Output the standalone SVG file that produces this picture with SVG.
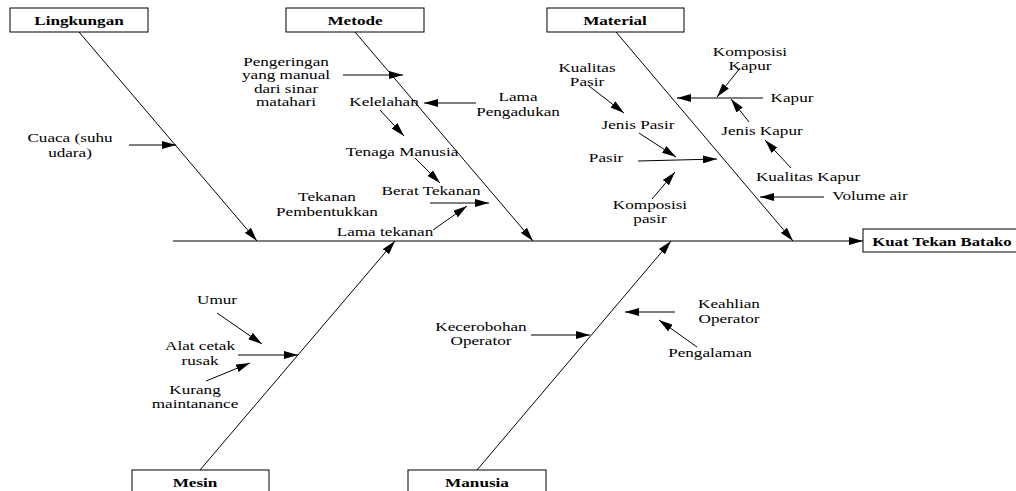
<svg xmlns="http://www.w3.org/2000/svg" width="1016" height="491" viewBox="0 0 1016 491" font-family="'Liberation Serif', 'Times New Roman', 'DejaVu Serif', serif">
<style>
text{font-family:'Liberation Serif','Times New Roman','DejaVu Serif',serif;font-size:13.5px;fill:#000;text-anchor:middle}
.b{font-weight:bold}
.box{fill:#fff;stroke:#000;stroke-width:1}
.ar{stroke:#000;stroke-width:1;fill:none;marker-end:url(#ah)}
</style>
<defs>
<marker id="ah" viewBox="0 0 14 8" refX="14" refY="4" markerWidth="14" markerHeight="8" orient="auto" markerUnits="userSpaceOnUse">
<path d="M0,0 L14,4 L0,8 z" fill="#000"/>
</marker>
</defs>
<rect width="1016" height="491" fill="#fff"/>

<g id="connectors">
<line class="ar" x1="173" y1="241" x2="863" y2="241"/>
<line class="ar" x1="79" y1="32" x2="257" y2="241"/>
<line class="ar" x1="355" y1="32" x2="533" y2="241"/>
<line class="ar" x1="616" y1="32" x2="793" y2="241"/>
<line class="ar" x1="200" y1="470" x2="395" y2="241"/>
<line class="ar" x1="477" y1="470" x2="671" y2="241"/>
<line class="ar" x1="129" y1="145" x2="176" y2="145"/>
<line class="ar" x1="343" y1="75" x2="403" y2="75"/>
<line class="ar" x1="476" y1="103" x2="424" y2="103"/>
<line class="ar" x1="380" y1="110" x2="404" y2="136"/>
<line class="ar" x1="415" y1="158" x2="440" y2="183"/>
<line class="ar" x1="430" y1="203" x2="489" y2="203"/>
<line class="ar" x1="433" y1="230" x2="467" y2="206"/>
<line class="ar" x1="740" y1="68" x2="717" y2="97"/>
<line class="ar" x1="763" y1="98" x2="677" y2="98"/>
<line class="ar" x1="749" y1="122" x2="731" y2="99"/>
<line class="ar" x1="791" y1="168" x2="765" y2="140"/>
<line class="ar" x1="824" y1="197" x2="760" y2="197"/>
<line class="ar" x1="589" y1="86" x2="624" y2="113"/>
<line class="ar" x1="639" y1="133" x2="676" y2="157"/>
<line class="ar" x1="638" y1="161" x2="717" y2="159"/>
<line class="ar" x1="652" y1="199" x2="675" y2="172"/>
<line class="ar" x1="217" y1="313" x2="262" y2="344"/>
<line class="ar" x1="238" y1="355" x2="298" y2="355"/>
<line class="ar" x1="206" y1="381" x2="250" y2="363"/>
<line class="ar" x1="531" y1="335" x2="590" y2="335"/>
<line class="ar" x1="675" y1="312" x2="625" y2="312"/>
<line class="ar" x1="697" y1="347" x2="659" y2="320"/>
</g>

<g id="node-lingkungan">
<rect class="box" x="10" y="8" width="138" height="24"/>
<text class="b" transform="translate(79 25) scale(1.27 1)">Lingkungan</text>
</g>
<g id="node-metode">
<rect class="box" x="286" y="8" width="138" height="24"/>
<text class="b" transform="translate(355 25) scale(1.27 1)">Metode</text>
</g>
<g id="node-material">
<rect class="box" x="547" y="8" width="137" height="24"/>
<text class="b" transform="translate(615 25) scale(1.27 1)">Material</text>
</g>
<g id="node-mesin">
<rect class="box" x="132" y="470" width="137" height="26"/>
<text class="b" transform="translate(195 487) scale(1.27 1)">Mesin</text>
</g>
<g id="node-manusia">
<rect class="box" x="408" y="470" width="138" height="26"/>
<text class="b" transform="translate(477 487) scale(1.27 1)">Manusia</text>
</g>
<g id="node-kuat-tekan-batako">
<rect class="box" x="863" y="229" width="160" height="23"/>
<text class="b" transform="translate(942 246) scale(1.24 1)">Kuat Tekan Batako</text>
</g>

<g id="labels">
<text transform="translate(70 142) scale(1.27 1)">Cuaca (suhu<tspan x="0" dy="15">udara)</tspan></text>
<text transform="translate(286 66) scale(1.27 1)">Pengeringan<tspan x="0" dy="13.5">yang manual</tspan><tspan x="0" dy="13.5">dari sinar</tspan><tspan x="0" dy="13.5">matahari</tspan></text>
<text transform="translate(384 106) scale(1.27 1)">Kelelahan</text>
<text transform="translate(518 101) scale(1.27 1)">Lama<tspan x="0" dy="15">Pengadukan</tspan></text>
<text transform="translate(402 156) scale(1.27 1)">Tenaga Manusia</text>
<text transform="translate(431 195) scale(1.27 1)">Berat Tekanan</text>
<text transform="translate(327 201) scale(1.27 1)">Tekanan<tspan x="0" dy="15">Pembentukkan</tspan></text>
<text transform="translate(385 236) scale(1.27 1)">Lama tekanan</text>
<text transform="translate(750 56) scale(1.27 1)">Komposisi<tspan x="0" dy="14">Kapur</tspan></text>
<text transform="translate(587 72) scale(1.27 1)">Kualitas<tspan x="0" dy="14">Pasir</tspan></text>
<text transform="translate(792 102) scale(1.27 1)">Kapur</text>
<text transform="translate(638 129) scale(1.27 1)">Jenis Pasir</text>
<text transform="translate(762 135) scale(1.27 1)">Jenis Kapur</text>
<text transform="translate(606 162) scale(1.27 1)">Pasir</text>
<text transform="translate(808 181) scale(1.27 1)">Kualitas Kapur</text>
<text transform="translate(870 200) scale(1.27 1)">Volume air</text>
<text transform="translate(650 209) scale(1.27 1)">Komposisi<tspan x="0" dy="14">pasir</tspan></text>
<text transform="translate(217 304) scale(1.27 1)">Umur</text>
<text transform="translate(200 350) scale(1.27 1)">Alat cetak<tspan x="0" dy="15">rusak</tspan></text>
<text transform="translate(195 394) scale(1.27 1)">Kurang<tspan x="0" dy="14">maintanance</tspan></text>
<text transform="translate(481 331) scale(1.27 1)">Kecerobohan<tspan x="0" dy="14">Operator</tspan></text>
<text transform="translate(729 308) scale(1.27 1)">Keahlian<tspan x="0" dy="15">Operator</tspan></text>
<text transform="translate(710 357) scale(1.27 1)">Pengalaman</text>
</g>
</svg>
